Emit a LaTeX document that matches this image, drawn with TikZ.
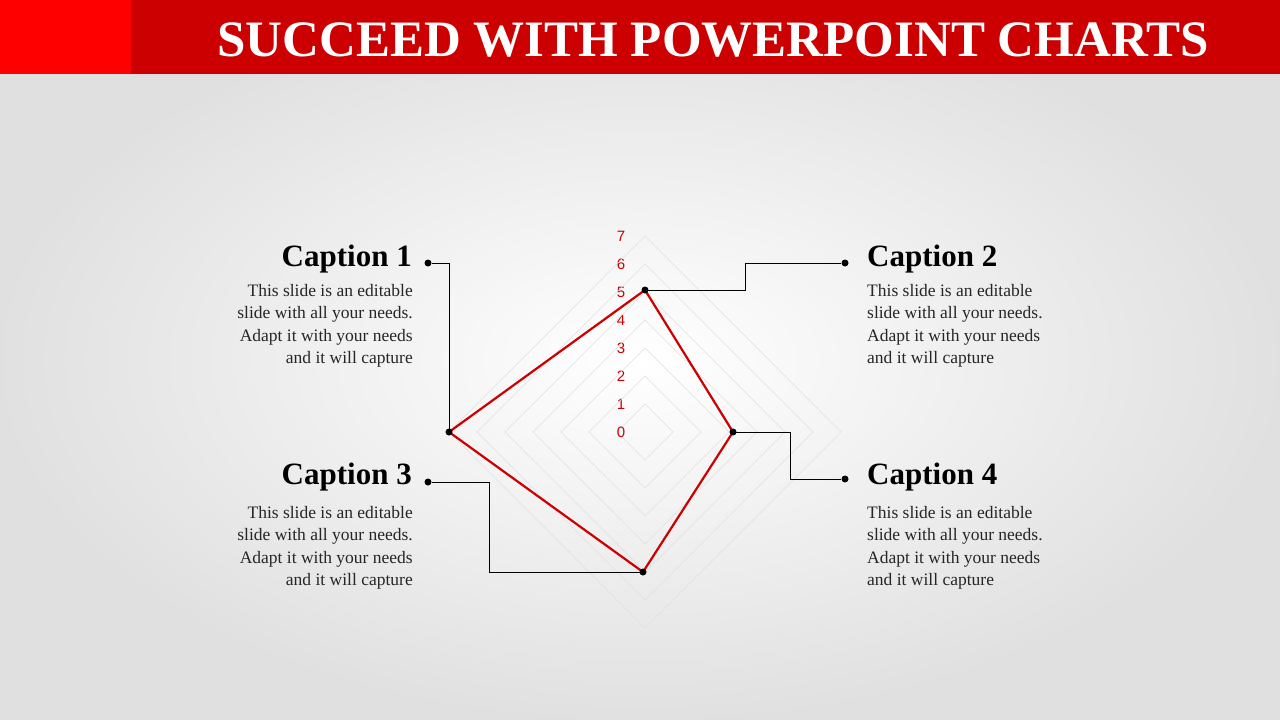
\documentclass[tikz,border=0pt]{standalone}
\usepackage{fontspec}
\setmainfont{Liberation Serif}
\newfontfamily\tickfont{Liberation Sans}
\begin{document}
\begin{tikzpicture}[x=1pt,y=-1pt,
  grid/.style={draw=black!12,line width=0.6pt},
  conn/.style={draw=black,line width=0.6pt},
  dot/.style={circle,fill=black,inner sep=0pt,minimum size=7pt},
  captxt/.style={font=\fontsize{31}{32}\selectfont\bfseries,inner sep=0pt},
  body/.style={font=\fontsize{17.5}{22.5}\selectfont,inner sep=0pt,text=black!85},
  tick/.style={font=\tickfont\fontsize{15}{15}\selectfont,text=red!80!black,inner sep=0pt}]
\useasboundingbox (0,0) rectangle (1280,720);
\shade[inner color=white,outer color=black!12] (0,0) rectangle (1280,720);
\fill[fill={rgb,255:red,204;green,0;blue,0}] (0,0) rectangle (1280,74);
\fill[fill={rgb,255:red,255;green,0;blue,0}] (0,0) rectangle (131,74);
\node[text=white,font=\fontsize{51}{51}\selectfont\bfseries] (title) at (713,40) {SUCCEED WITH POWERPOINT CHARTS};
% grid
\foreach \r in {1,...,7}{
  \draw[grid] (645,432-28*\r) -- (645+28*\r,432) -- (645,432+28*\r) -- (645-28*\r,432) -- cycle;
  \node[tick] at (621,432-28*\r) {\r};}
\node[tick] at (621,432) {0};
% data
\coordinate (p1) at (645,290);
\coordinate (p2) at (733,432);
\coordinate (p3) at (643,572);
\coordinate (p4) at (449,432);
\draw[line width=2.2pt,draw={rgb,255:red,204;green,0;blue,0},line join=round] (p1) -- (p2) -- (p3) -- (p4) -- cycle;
\foreach \p in {p1,p2,p3,p4} \node[dot] at (\p) {};
% connector ends
\node[dot] (d2) at (845,263) {};
\node[dot] (d4) at (845,479) {};
\node[dot] (d1) at (428,263) {};
\node[dot] (d3) at (428,482) {};
\draw[conn] (p1) -- (745,290) -- (745,263) -- (d2);
\draw[conn] (p2) -- (790,432) -- (790,479) -- (d4);
\draw[conn] (p4) -- (449,263) -- (d1);
\draw[conn] (p3) -- (489,572) -- (489,482) -- (d3);
% captions
\node[captxt,anchor=east] (c1) at (412,259) {Caption 1};
\node[captxt,anchor=west] (c2) at (867,259) {Caption 2};
\node[captxt,anchor=east] (c3) at (412,477) {Caption 3};
\node[captxt,anchor=west] (c4) at (867,477) {Caption 4};
\node[body,anchor=north east,align=right] (b1) at (413,284) {This slide is an editable\\slide with all your needs.\\Adapt it with your needs\\and it will capture};
\node[body,anchor=north west,align=left] (b2) at (867,284) {This slide is an editable\\slide with all your needs.\\Adapt it with your needs\\and it will capture};
\node[body,anchor=north east,align=right] (b3) at (413,506) {This slide is an editable\\slide with all your needs.\\Adapt it with your needs\\and it will capture};
\node[body,anchor=north west,align=left] (b4) at (867,506) {This slide is an editable\\slide with all your needs.\\Adapt it with your needs\\and it will capture};
\end{tikzpicture}
\end{document}
